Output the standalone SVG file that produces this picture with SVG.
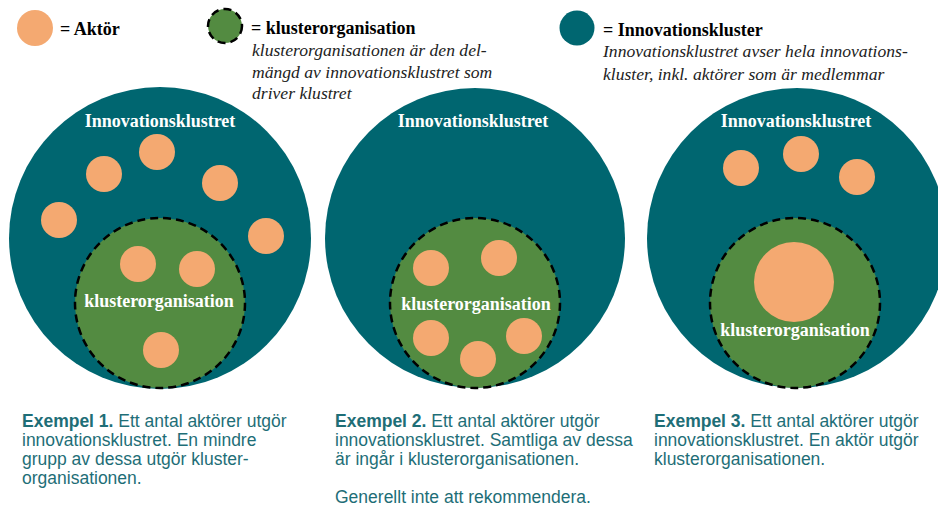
<svg xmlns="http://www.w3.org/2000/svg" width="938" height="508" viewBox="0 0 938 508">
<style>
.cl{fill:#006670}
.org{fill:#538B41;stroke:#000;stroke-width:2.5;stroke-dasharray:8 5}
.act{fill:#F4A971}
.lbl{font-family:"Liberation Serif","Times New Roman",serif;font-weight:bold;font-size:18px;fill:#fff;text-anchor:middle}
.leg{font-family:"Liberation Serif","Times New Roman",serif;font-weight:bold;font-size:18px;fill:#000}
.it{font-family:"Liberation Serif","Times New Roman",serif;font-style:italic;font-size:17.6px;fill:#222}
.ex{font-family:"Liberation Sans",Arial,sans-serif;font-size:17.5px;fill:#1E6E77}
.ex tspan.b{font-weight:bold}
</style>
<rect width="938" height="508" fill="#fff"/>
<g id="legend">
  <g id="legend-aktor">
    <circle class="act" cx="35" cy="28" r="18"/>
    <text class="leg" x="60" y="35">= Aktör</text>
  </g>
  <g id="legend-org">
    <circle class="org" cx="225" cy="26" r="17"/>
    <text class="leg" x="251" y="34">= klusterorganisation</text>
    <text class="it" x="252" y="56">klusterorganisationen är den del-</text>
    <text class="it" x="252" y="78">mängd av innovationsklustret som</text>
    <text class="it" x="252" y="99">driver klustret</text>
  </g>
  <g id="legend-cluster">
    <circle class="cl" cx="577" cy="28" r="17.5"/>
    <text class="leg" x="603" y="36">= Innovationskluster</text>
    <text class="it" x="603" y="57">Innovationsklustret avser hela innovations-</text>
    <text class="it" x="603" y="80">kluster, inkl. aktörer som är medlemmar</text>
  </g>
</g>
<g id="example1">
  <circle class="cl" cx="160" cy="238" r="151"/>
  <text class="lbl" x="160" y="127">Innovationsklustret</text>
  <circle class="act" cx="157" cy="152" r="18"/>
  <circle class="act" cx="104" cy="174" r="18"/>
  <circle class="act" cx="220" cy="183" r="18"/>
  <circle class="act" cx="59" cy="220" r="18"/>
  <circle class="act" cx="266" cy="236" r="18"/>
  <circle class="org" cx="160" cy="303" r="85"/>
  <circle class="act" cx="138" cy="264" r="18"/>
  <circle class="act" cx="197" cy="269" r="18"/>
  <circle class="act" cx="161" cy="350" r="18"/>
  <text class="lbl" x="159" y="307">klusterorganisation</text>
  <text class="ex" x="22" y="427"><tspan class="b">Exempel 1.</tspan> Ett antal aktörer utgör</text>
  <text class="ex" x="22" y="446">innovationsklustret. En mindre</text>
  <text class="ex" x="22" y="465">grupp av dessa utgör kluster-</text>
  <text class="ex" x="22" y="484">organisationen.</text>
</g>
<g id="example2">
  <circle class="cl" cx="475" cy="238" r="150"/>
  <text class="lbl" x="473" y="127">Innovationsklustret</text>
  <circle class="org" cx="475" cy="303" r="85"/>
  <circle class="act" cx="431" cy="268" r="18"/>
  <circle class="act" cx="499" cy="258" r="18"/>
  <circle class="act" cx="431" cy="338" r="18"/>
  <circle class="act" cx="478" cy="359" r="18"/>
  <circle class="act" cx="524" cy="336" r="18"/>
  <text class="lbl" x="476" y="310">klusterorganisation</text>
  <text class="ex" x="335" y="427"><tspan class="b">Exempel 2.</tspan> Ett antal aktörer utgör</text>
  <text class="ex" x="335" y="446">innovationsklustret. Samtliga av dessa</text>
  <text class="ex" x="335" y="465">är ingår i klusterorganisationen.</text>
  <text class="ex" x="335" y="503">Generellt inte att rekommendera.</text>
</g>
<g id="example3">
  <circle class="cl" cx="797" cy="238" r="150"/>
  <text class="lbl" x="796" y="127">Innovationsklustret</text>
  <circle class="act" cx="741" cy="168" r="18"/>
  <circle class="act" cx="801" cy="154" r="18"/>
  <circle class="act" cx="857" cy="177" r="18"/>
  <circle class="org" cx="795" cy="303" r="85"/>
  <circle class="act" cx="794" cy="282" r="40"/>
  <text class="lbl" x="795" y="336">klusterorganisation</text>
  <text class="ex" x="654" y="427"><tspan class="b">Exempel 3.</tspan> Ett antal aktörer utgör</text>
  <text class="ex" x="654" y="446">innovationsklustret. En aktör utgör</text>
  <text class="ex" x="654" y="465">klusterorganisationen.</text>
</g>
<g id="connectors"/>
</svg>
